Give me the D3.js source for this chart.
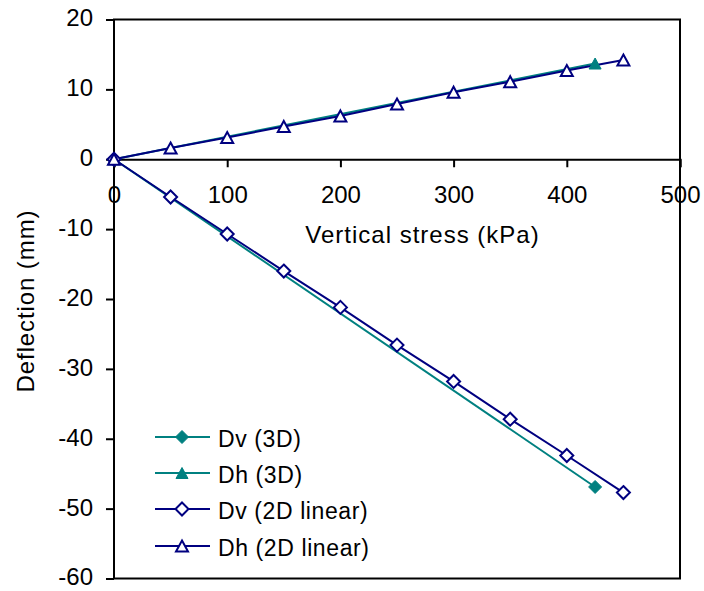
<!DOCTYPE html>
<html><head><meta charset="utf-8">
<script src="https://cdn.jsdelivr.net/npm/d3@7"></script>
<style>body{margin:0;background:#fff}svg{display:block}text{font-family:Arial,"Liberation Sans",sans-serif;fill:#000}</style>
</head><body><svg id="c" width="704" height="591"></svg>
<script>
const xTicks=[0,100,200,300,400,500];
const yTicks=[-60,-50,-40,-30,-20,-10,0,10,20];
const stress2D=[0,50,100,150,200,250,300,350,400,450];
const dv2D=[0,-5.4,-10.7,-16.0,-21.2,-26.6,-31.8,-37.2,-42.4,-47.7];
const dh2D=[0,1.6,3.1,4.7,6.2,7.9,9.6,11.1,12.7,14.2];
const stress3D=[0,425];
const dv3D=[0,-46.9];
const dh3D=[0,13.7];
const seriesNames=["Dv (3D)","Dh (3D)","Dv (2D linear)","Dh (2D linear)"];
const teal="#008080", navy="#000080";

const svg=d3.select("#c");
const x=d3.scaleLinear().domain([0,500]).range([114,680]);
const y=d3.scaleLinear().domain([-60,20]).range([578.5,19.5]);

const series=[
 {name:seriesNames[0],xs:stress3D,ys:dv3D,color:teal,shape:"diamond",fill:teal},
 {name:seriesNames[1],xs:stress3D,ys:dh3D,color:teal,shape:"triangle",fill:teal},
 {name:seriesNames[2],xs:stress2D,ys:dv2D,color:navy,shape:"diamond",fill:"#fff"},
 {name:seriesNames[3],xs:stress2D,ys:dh2D,color:navy,shape:"triangle",fill:"#fff"}
];
const fmt=d=>String(d);

// axes
const yAx=svg.append("g").attr("transform",`translate(${x(0)},0)`)
 .call(d3.axisLeft(y).tickValues(yTicks).tickSize(8).tickPadding(13).tickFormat(fmt));
yAx.select(".domain").remove();
yAx.selectAll("line").attr("stroke","#000").attr("stroke-width",2);
yAx.selectAll("text").attr("font-size","24px").attr("dy","0.27em").attr("font-family","Arial,'Liberation Sans',sans-serif").attr("fill","#000");

const xAx=svg.append("g").attr("transform",`translate(0,${y(0)})`)
 .call(d3.axisBottom(x).tickValues(xTicks).tickSize(8).tickPadding(19).tickFormat(fmt));
xAx.select(".domain").attr("stroke","#000").attr("stroke-width",2);
xAx.selectAll("line").attr("stroke","#000").attr("stroke-width",2);
xAx.selectAll("text").attr("font-size","24px").attr("font-family","Arial,'Liberation Sans',sans-serif").attr("fill","#000");

// frame
svg.append("rect").attr("x",x(0)).attr("y",y(20)).attr("width",x(500)-x(0)).attr("height",y(-60)-y(20))
 .attr("fill","none").attr("stroke","#000").attr("stroke-width",2);

// titles
svg.append("text").attr("x",422.5).attr("y",242.5).attr("text-anchor","middle")
 .attr("font-size","24px").attr("letter-spacing","1px").text("Vertical stress (kPa)");
svg.append("text").attr("transform","translate(34,301) rotate(-90)").attr("text-anchor","middle")
 .attr("font-size","24px").attr("letter-spacing","0.9px").text("Deflection (mm)");

function markerPath(shape){
 if(shape==="diamond") return "M0,-6.5L6.5,0L0,6.5L-6.5,0Z";
 return "M0,-5.5L6,5.5L-6,5.5Z";
}

const line=d3.line();
series.forEach(s=>{
 const pts=s.xs.map((v,i)=>[x(v),y(s.ys[i])]);
 svg.append("path").attr("d",line(pts)).attr("fill","none").attr("stroke",s.color).attr("stroke-width",2);
});
series.forEach(s=>{
 const pts=s.xs.map((v,i)=>[x(v),y(s.ys[i])]);
 svg.append("g").selectAll("path").data(pts).join("path")
  .attr("transform",d=>`translate(${d[0]},${d[1]})`).attr("d",markerPath(s.shape))
  .attr("fill",s.fill).attr("stroke",s.color).attr("stroke-width",s.fill==="#fff"?2:1);
});

// legend
const rows=[437,473,509,546];
series.forEach((s,i)=>{
 const g=svg.append("g").attr("transform",`translate(0,${rows[i]})`);
 g.append("line").attr("x1",155).attr("x2",210).attr("stroke",s.color).attr("stroke-width",2);
 g.append("path").attr("transform","translate(182,0)").attr("d",markerPath(s.shape))
  .attr("fill",s.fill).attr("stroke",s.color).attr("stroke-width",s.fill==="#fff"?2:1);
 g.append("text").attr("x",218).attr("y",9.5).attr("font-size","23px").attr("letter-spacing","0.6px").text(s.name);
});
</script></body></html>
